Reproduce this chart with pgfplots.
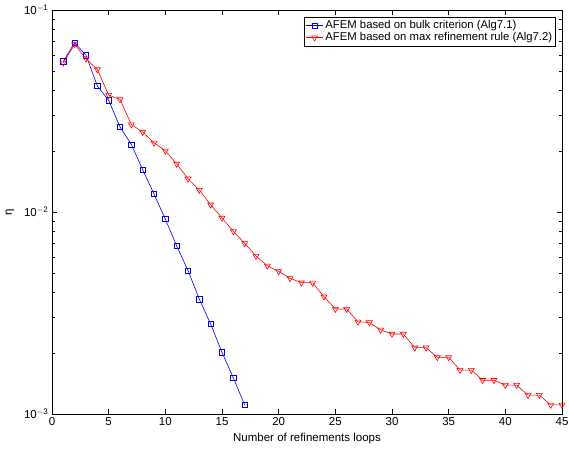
\documentclass[border=0pt]{standalone}
\usepackage{fontspec}
\setmainfont{Liberation Sans}
\usepackage{pgfplots}
\pgfplotsset{compat=1.18}

\begin{document}
\begin{tikzpicture}[font=\fontsize{11.5}{13}\selectfont]
  \useasboundingbox (-52pt,-37pt) rectangle (517pt,414pt);
  \begin{semilogyaxis}[
    at={(0,0)}, anchor=south west,
    scale only axis, width=510pt, height=404pt,
    xmin=0, xmax=45, ymin=1e-3, ymax=1e-1,
    xtick={0,5,...,45},
    ytick={0.001,0.01,0.1},
    yticklabels={10\textsuperscript{$-$3},10\textsuperscript{$-$2},10\textsuperscript{$-$1}},
    /pgf/number format/assume math mode=true,
    xlabel={Number of refinements loops},
    ylabel={η},
    every axis x label/.style={at={(rel axis cs:0.5,0)},yshift=-25pt,anchor=center},
    every axis y label/.style={at={(rel axis cs:0,0.5)},xshift=-42pt,rotate=90,anchor=center},
    axis line style={line width=0.6pt},
    major tick length=5pt, minor tick length=3pt,
    every tick/.style={black,line width=0.5pt},
    legend cell align=left,
    legend style={at={(0.988,0.983)},anchor=north east,draw=black,
                  fill=white,font=\fontsize{11.3}{12.5}\selectfont,
                  inner sep=1.5pt,row sep=-1.5pt},
  ]
    \addplot[blue,line width=0.6pt,mark=square,mark size=2.6pt,
             mark options={solid}]
      coordinates {(1,0.0557) (2,0.0689) (3,0.0597) (4,0.0421) (5,0.0357)
                   (6,0.0264) (7,0.0216) (8,0.0162) (9,0.01228) (10,0.00923)
                   (11,0.00679) (12,0.00514) (13,0.00370) (14,0.00279)
                   (15,0.00202) (16,0.00151) (17,0.00111)};
    \addplot[red,line width=0.6pt,mark=triangle,mark size=3.4pt,
             mark options={solid,rotate=180}]
      coordinates {(1,0.0548) (2,0.0676) (3,0.0574) (4,0.0508) (5,0.0379)
                   (6,0.0361) (7,0.0271) (8,0.0249) (9,0.0220) (10,0.0201)
                   (11,0.0173) (12,0.01462) (13,0.01285) (14,0.01087)
                   (15,0.00935) (16,0.00802) (17,0.00700) (18,0.00605)
                   (19,0.00542) (20,0.00508) (21,0.00470) (22,0.00447)
                   (23,0.00446) (24,0.00381) (25,0.00331) (26,0.00331)
                   (27,0.00286) (28,0.00284) (29,0.00261) (30,0.00249)
                   (31,0.00249) (32,0.00213) (33,0.00213) (34,0.00191)
                   (35,0.00191) (36,0.00165) (37,0.00165) (38,0.00147)
                   (39,0.00147) (40,0.00139) (41,0.00139) (42,0.00124)
                   (43,0.00124) (44,0.00111) (45,0.00111)};
    \legend{AFEM based on bulk criterion (Alg7.1),
            AFEM based on max refinement rule (Alg7.2)}
  \end{semilogyaxis}
\end{tikzpicture}
\end{document}
